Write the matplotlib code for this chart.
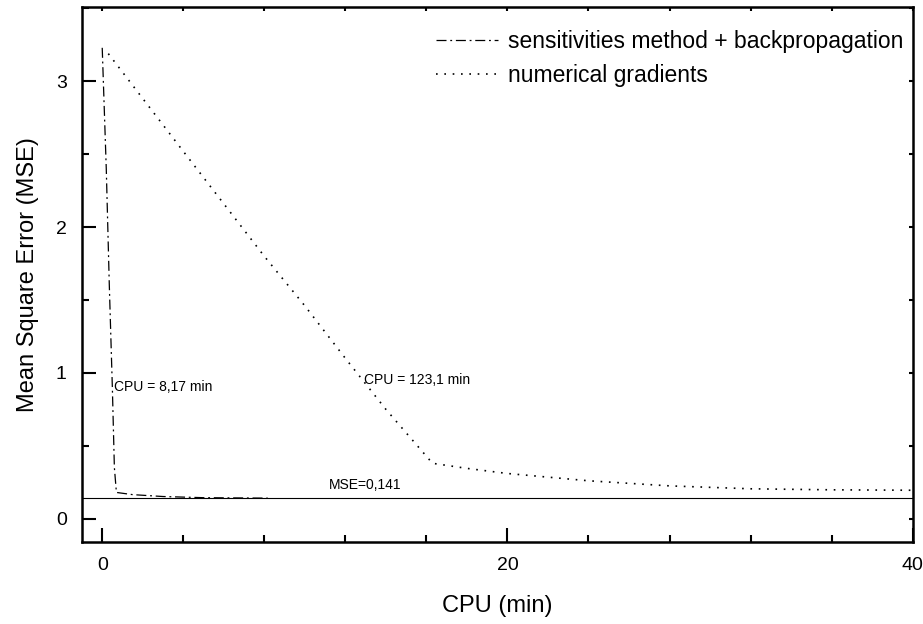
import numpy as np
import matplotlib.pyplot as plt
from matplotlib.ticker import MultipleLocator

plt.rcParams['font.family'] = ['Liberation Sans', 'DejaVu Sans']

# training curves, CPU time (min) vs MSE
sens_cpu = [0.0, 0.2, 0.35, 0.5, 0.6, 0.7, 1.5, 3.0, 5.0, 8.17]
sens_mse = [3.23, 2.4, 1.6, 0.9, 0.35, 0.18, 0.165, 0.152, 0.144, 0.141]

num_cpu = [0.3, 4.0, 8.0, 10.0, 12.0, 14.0, 16.3, 18.0, 20.0, 24.0, 28.0, 32.0, 36.0, 40.0]
num_mse = [3.19, 2.52, 1.8, 1.46, 1.1, 0.75, 0.38, 0.345, 0.31, 0.26, 0.225, 0.205, 0.198, 0.195]

mse_final = 0.141

fig = plt.figure(figsize=(9.23, 6.24), dpi=100)
ax = fig.add_axes([0.0888, 0.1314, 0.9, 0.8574])

ax.plot(sens_cpu, sens_mse, color='black', lw=0.9, linestyle=(0, (8, 3, 1.5, 3)),
        label='sensitivities method + backpropagation')
ax.plot(num_cpu, num_mse, color='black', lw=1.2, linestyle=(0, (1, 4)),
        label='numerical gradients')
ax.axhline(mse_final, color='black', lw=0.8)

ax.text(0.6, 0.9, 'CPU = 8,17 min', fontsize=10, va='center', ha='left')
ax.text(12.9, 0.95, 'CPU = 123,1 min', fontsize=10, va='center', ha='left')
ax.text(13.0, mse_final + 0.04, 'MSE=0,141', fontsize=10, va='bottom', ha='center')

ax.set_xlim(-1, 40)
ax.set_ylim(-0.16, 3.51)
ax.xaxis.set_major_locator(MultipleLocator(20))
ax.xaxis.set_minor_locator(MultipleLocator(4))
ax.yaxis.set_major_locator(MultipleLocator(1))
ax.yaxis.set_minor_locator(MultipleLocator(0.5))
ax.tick_params(which='both', direction='in', top=True, right=True, width=1.5,
               labelsize=14, pad=11)
ax.tick_params(which='major', length=10)
ax.tick_params(which='minor', length=5)
for s in ax.spines.values():
    s.set_linewidth(1.8)

# short ticks on the top and right spines
for t in (ax.xaxis.get_major_ticks() + ax.xaxis.get_minor_ticks()
          + ax.yaxis.get_major_ticks() + ax.yaxis.get_minor_ticks()):
    t.tick2line.set_markersize(3)

ax.set_xlabel('CPU (min)', fontsize=17, labelpad=15)
ax.set_ylabel('Mean Square Error (MSE)', fontsize=17, labelpad=12)

ax.legend(loc='upper right', bbox_to_anchor=(1.0, 0.975), frameon=False,
          fontsize=16.5, handlelength=2.7, handletextpad=0.45,
          labelspacing=0.5, borderaxespad=0)

fig.savefig('out.png', dpi=100)
